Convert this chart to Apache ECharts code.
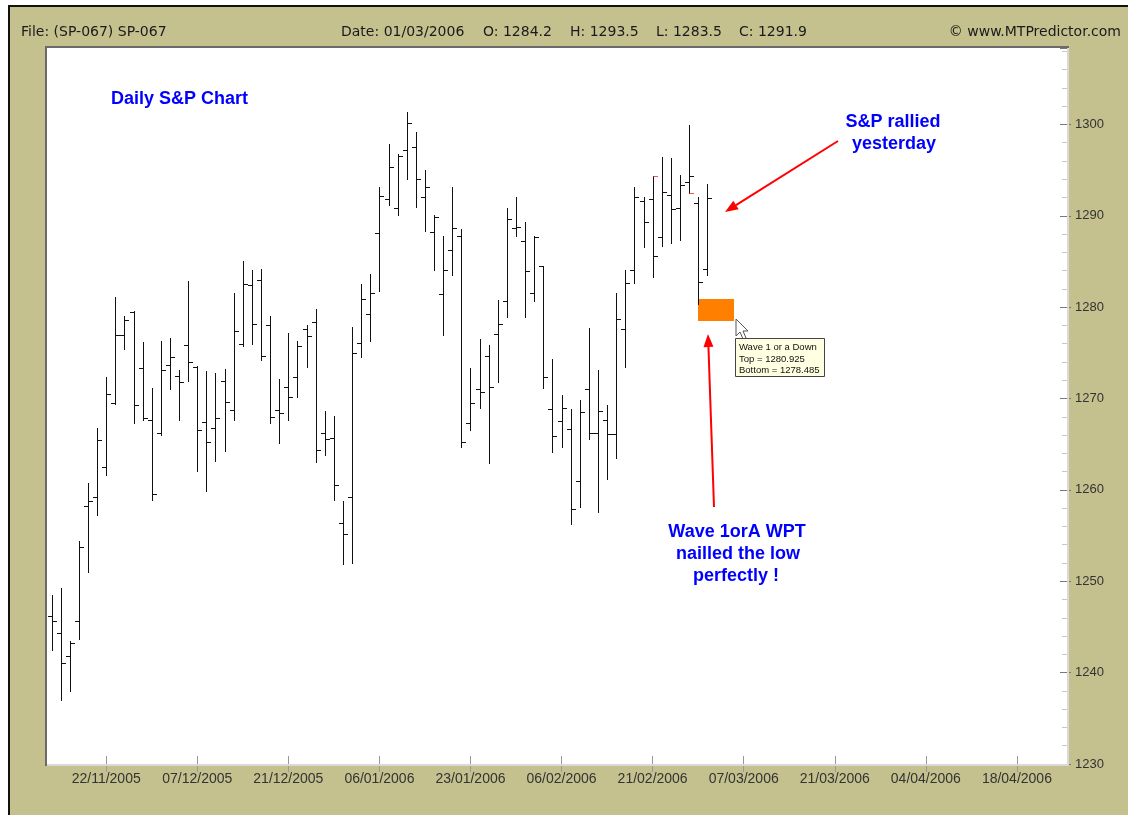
<!DOCTYPE html>
<html><head><meta charset="utf-8">
<script src="https://cdn.jsdelivr.net/npm/echarts@6/dist/echarts.min.js"></script>
<style>
html,body{margin:0;padding:0;background:#fff;}
#wrap{position:relative;width:1128px;height:815px;overflow:hidden;background:#fff;}
#frame{position:absolute;left:8px;top:5px;width:1120px;height:810px;box-sizing:border-box;border-left:2px solid #111;border-top:2px solid #111;background:#c4c18f;}
#c{position:absolute;left:0;top:0;width:1128px;height:815px;}
</style></head><body>
<div id="wrap"><div id="frame"></div><div id="c"></div></div>
<script>
// ---- trading-day categories (bars + future dates) ----
const dates = [
 '14/11/2005','15/11/2005','16/11/2005','17/11/2005','18/11/2005','21/11/2005','22/11/2005','23/11/2005','25/11/2005','28/11/2005','29/11/2005','30/11/2005',
 '01/12/2005','02/12/2005','05/12/2005','06/12/2005','07/12/2005','08/12/2005','09/12/2005','12/12/2005','13/12/2005','14/12/2005','15/12/2005','16/12/2005','19/12/2005','20/12/2005','21/12/2005','22/12/2005','23/12/2005','27/12/2005','28/12/2005','29/12/2005','30/12/2005',
 '03/01/2006','04/01/2006','05/01/2006','06/01/2006','09/01/2006','10/01/2006','11/01/2006','12/01/2006','13/01/2006','17/01/2006','18/01/2006','19/01/2006','20/01/2006','23/01/2006','24/01/2006','25/01/2006','26/01/2006','27/01/2006','30/01/2006','31/01/2006',
 '01/02/2006','02/02/2006','03/02/2006','06/02/2006','07/02/2006','08/02/2006','09/02/2006','10/02/2006','13/02/2006','14/02/2006','15/02/2006','16/02/2006','17/02/2006','21/02/2006','22/02/2006','23/02/2006','24/02/2006','27/02/2006','28/02/2006',
 '01/03/2006','02/03/2006','03/03/2006','06/03/2006','07/03/2006','08/03/2006','09/03/2006','10/03/2006','13/03/2006','14/03/2006','15/03/2006','16/03/2006','17/03/2006','20/03/2006','21/03/2006','22/03/2006','23/03/2006','24/03/2006','27/03/2006','28/03/2006','29/03/2006','30/03/2006','31/03/2006',
 '03/04/2006','04/04/2006','05/04/2006','06/04/2006','07/04/2006','10/04/2006','11/04/2006','12/04/2006','13/04/2006','14/04/2006','17/04/2006','18/04/2006','19/04/2006','20/04/2006','21/04/2006','24/04/2006','25/04/2006'
];
const xTickLabels = ['22/11/2005','07/12/2005','21/12/2005','06/01/2006','23/01/2006','06/02/2006','21/02/2006','07/03/2006','21/03/2006','04/04/2006','18/04/2006'];
const yTickValues = [1230,1240,1250,1260,1270,1280,1290,1300];

// ---- OHLC values (one per trading day, 14/11/2005 .. 01/03/2006) ----
const opens = [1246.2,1244.3,1241.8,1245.6,1258.2,1259.2,1262.5,1269.5,1276.9,1279.5,1273.3,1267.7,1266.2,1273.7,1272.5,1275.9,1273.5,1267.4,1266.8,1271.9,
 1268.7,1276.0,1282.4,1283.0,1278.0,1268.7,1271.3,1272.4,1277.6,1278.4,1266.2,1265.7,1256.4,1259.2,1276.1,1279.2,1288.1,1291.8,1290.9,1297.2,
 1297.5,1292.0,1288.2,1281.4,1286.2,1287.8,1267.3,1271.0,1274.7,1277.1,1280.7,1288.7,1287.2,1281.6,1284.5,1268.9,1267.5,1266.7,1261.0,1271.0,
 1266.2,1267.6,1266.1,1277.6,1284.1,1291.6,1291.8,1287.7,1292.3,1290.9,1293.7,1291.4,1284.2];
const highs = [1248.5,1249.3,1243.5,1254.4,1260.7,1266.8,1272.3,1281.1,1279.0,1279.6,1276.2,1271.1,1276.3,1276.6,1273.1,1282.9,1273.6,1273.0,1272.8,1273.2,
 1281.6,1285.0,1284.1,1284.2,1279.0,1272.1,1277.2,1276.3,1278.0,1279.8,1268.6,1268.1,1258.8,1277.8,1282.5,1283.6,1293.1,1297.9,1296.8,1301.4,
 1299.2,1295.0,1290.1,1287.8,1293.1,1288.6,1273.3,1276.5,1275.9,1280.8,1290.8,1292.1,1289.3,1287.8,1284.5,1274.3,1270.4,1268.8,1269.8,1277.7,
 1273.1,1269.3,1281.6,1284.1,1293.1,1292.1,1294.3,1296.4,1296.3,1294.5,1299.9,1292.1,1293.5];
const lows = [1242.5,1237.0,1238.0,1243.7,1251.0,1257.3,1261.6,1269.4,1275.4,1267.3,1267.6,1258.9,1266.0,1271.0,1267.7,1271.9,1262.1,1259.9,1263.2,1264.3,
 1267.6,1275.8,1276.0,1274.2,1267.3,1265.1,1267.6,1270.2,1273.4,1263.1,1263.8,1258.9,1251.9,1252.0,1274.5,1276.3,1281.8,1291.2,1290.1,1294.0,
 1291.0,1288.3,1284.1,1276.9,1283.5,1264.7,1266.5,1269.0,1262.9,1271.8,1278.9,1287.8,1278.9,1280.7,1271.1,1264.2,1264.7,1256.3,1258.1,1265.6,
 1257.6,1261.2,1263.5,1273.4,1282.6,1286.6,1283.3,1286.7,1287.0,1287.4,1292.5,1280.3,1283.5];
const closes = [1245.7,1241.0,1243.2,1253.7,1258.8,1265.5,1270.5,1277.0,1278.6,1269.3,1267.9,1259.6,1273.1,1274.5,1271.8,1274.0,1266.5,1265.2,1267.9,1269.6,
 1277.4,1282.5,1278.2,1274.6,1268.0,1268.4,1270.2,1275.8,1276.8,1264.4,1265.6,1260.5,1255.2,1275.0,1280.9,1281.6,1292.2,1295.3,1296.5,1300.1,
 1294.0,1293.1,1289.9,1284.1,1288.7,1265.2,1269.5,1270.7,1271.3,1278.2,1289.6,1288.8,1284.0,1287.7,1272.3,1265.9,1269.0,1257.9,1268.5,1266.2,
 1268.6,1266.1,1278.7,1282.6,1292.1,1289.3,1285.6,1292.6,1290.7,1293.4,1294.4,1282.7,1291.9];

// small red swing marks [barIndex, price]
const swingMarkIndex = [66, 70];
const swingMarkPrice = [1294.3, 1292.5];

// WPT zone: spans categories zoneFrom..zoneTo
const zoneName = 'Wave 1 or a Down';
const zoneFrom = 71, zoneTo = 75;
const zoneTop = 1280.925, zoneBottom = 1278.485;

const FONT = "'Liberation Sans', Arial, sans-serif";
const last = opens.length - 1;
const barData = opens.map((o, i) => [i, o, highs[i], lows[i], closes[i]]);
const markData = swingMarkIndex.map((idx, k) => [idx, swingMarkPrice[k]]);
const labelSet = new Set(xTickLabels);
const showAt = (idx) => labelSet.has(dates[idx]);

function renderBar(params, api) {
  const i = api.value(0);
  const o = api.coord([i, api.value(1)]);
  const h = api.coord([i, api.value(2)]);
  const l = api.coord([i, api.value(3)]);
  const c = api.coord([i, api.value(4)]);
  const x = Math.round(h[0]) + 0.5;
  const r = v => Math.round(v) + 0.5;
  const st = {stroke: '#111', lineWidth: 1};
  return {type: 'group', children: [
    {type: 'line', shape: {x1: x, y1: Math.round(h[1]), x2: x, y2: Math.round(l[1]) + 1}, style: st},
    {type: 'line', shape: {x1: x - 4.5, y1: r(o[1]), x2: x, y2: r(o[1])}, style: st},
    {type: 'line', shape: {x1: x, y1: r(c[1]), x2: x + 4.5, y2: r(c[1])}, style: st}
  ]};
}
function renderMark(params, api) {
  const p = api.coord([api.value(0), api.value(1)]);
  const x = Math.round(p[0]) + 0.5, y = Math.round(p[1]) + 0.5;
  return {type: 'line', shape: {x1: x, y1: y, x2: x + 4.5, y2: y}, style: {stroke: '#ff5050', lineWidth: 1}};
}
function renderZone(params, api) {
  const a = api.coord([api.value(0), api.value(2)]);
  const b = api.coord([api.value(1), api.value(3)]);
  return {type: 'rect', shape: {x: Math.round(a[0]), y: Math.round(a[1]), width: Math.round(b[0] - a[0]), height: Math.round(b[1] - a[1])},
    style: {fill: '#ff8000'}};
}

const yMin = 1230, yMax = 1308.36;
const commonY = {type: 'value', position: 'right', min: yMin, max: yMax, interval: 10, splitLine: {show: false}, axisLine: {show: false}};

function arrow(x1, y1, x2, y2) {
  const dx = x2 - x1, dy = y2 - y1, L = Math.hypot(dx, dy);
  const ux = dx / L, uy = dy / L, nx = -uy, ny = ux, hl = 13, hw = 5;
  const bx = x2 - hl * ux, by = y2 - hl * uy;
  return [
    {type: 'line', shape: {x1, y1, x2: bx, y2: by}, style: {stroke: '#ff0000', lineWidth: 2}, z: 50},
    {type: 'polygon', shape: {points: [[x2, y2], [bx + hw * nx, by + hw * ny], [bx - hw * nx, by - hw * ny]]}, style: {fill: '#ff0000'}, z: 50}
  ];
}
const blueText = (t, x, y, align) => ({type: 'text', x, y, z: 50, style: {text: t, fill: '#0000ff', font: "bold 18px " + FONT, textAlign: align || 'center', textVerticalAlign: 'middle'}});
const hdr = (t, x, align) => ({type: 'text', x, y: 32, z: 50, style: {text: t, fill: '#1a1a1a', font: "14px 'DejaVu Sans', sans-serif", textAlign: align || 'left', textVerticalAlign: 'middle'}});

const chart = echarts.init(document.getElementById('c'), null, {renderer: 'canvas'});
chart.setOption({
  animation: false,
  backgroundColor: 'transparent',
  grid: {left: 47, right: 61, top: 48, bottom: 51, show: true, backgroundColor: '#ffffff', borderWidth: 0},
  xAxis: [
    {type: 'category', data: dates, position: 'bottom', boundaryGap: true,
     axisLine: {show: false},
     axisTick: {show: true, inside: false, length: 8, alignWithLabel: true, interval: showAt, lineStyle: {color: '#999'}},
     axisLabel: {show: true, interval: showAt, color: '#333', fontSize: 14, fontFamily: FONT, margin: 8},
     splitLine: {show: false}},
    {type: 'category', data: dates, position: 'bottom', boundaryGap: true,
     axisLine: {show: false},
     axisTick: {show: true, inside: true, length: 8, alignWithLabel: true, interval: showAt, lineStyle: {color: '#999'}},
     axisLabel: {show: false}, splitLine: {show: false}}
  ],
  yAxis: [
    Object.assign({}, commonY, {
      axisTick: {show: true, inside: false, length: 4, lineStyle: {color: '#777'}},
      axisLabel: {show: true, color: '#333', fontSize: 13, fontFamily: FONT, margin: 8, showMaxLabel: false,
        formatter: v => (yTickValues.indexOf(v) >= 0 ? String(v) : '')}
    }),
    Object.assign({}, commonY, {
      axisTick: {show: true, inside: true, length: 7, lineStyle: {color: '#777'}},
      minorTick: {show: true, splitNumber: 5, length: 5, lineStyle: {color: '#c8c8c8'}},
      axisLabel: {show: false}
    })
  ],
  series: [
    {type: 'custom', name: 'zone', data: [[zoneFrom, zoneTo, zoneTop, zoneBottom]], encode: {x: [0, 1], y: [2, 3]}, renderItem: renderZone, z: 4},
    {type: 'custom', name: 'S&P', data: barData, encode: {x: 0, y: [1, 2, 3, 4]}, renderItem: renderBar, z: 5},
    {type: 'custom', name: 'marks', data: markData, encode: {x: 0, y: 1}, renderItem: renderMark, z: 6}
  ],
  graphic: [
    // plot frame
    {type: 'rect', shape: {x: 45, y: 46, width: 1024, height: 2}, style: {fill: '#6a6a6a'}, z: 40},
    {type: 'rect', shape: {x: 45, y: 46, width: 2, height: 720}, style: {fill: '#6a6a6a'}, z: 40},
    {type: 'rect', shape: {x: 1067, y: 48, width: 2, height: 718}, style: {fill: '#d9d9d9'}, z: 40},
    {type: 'rect', shape: {x: 47, y: 764, width: 1022, height: 2}, style: {fill: '#d9d9d9'}, z: 40},
    // header
    hdr('File: (SP-067) SP-067', 21),
    hdr('Date: ' + dates[last], 341),
    hdr('O: ' + opens[last].toFixed(1), 483),
    hdr('H: ' + highs[last].toFixed(1), 570),
    hdr('L: ' + lows[last].toFixed(1), 656),
    hdr('C: ' + closes[last].toFixed(1), 739),
    hdr('\u00A9 www.MTPredictor.com', 1121, 'right'),
    // annotations
    blueText('Daily S&P Chart', 111, 99, 'left'),
    blueText('S&P rallied', 893, 122),
    blueText('yesterday', 894, 144),
    blueText('Wave 1orA WPT', 737, 532),
    blueText('nailled the low', 738, 554),
    blueText('perfectly !', 736, 576),
    ...arrow(838, 141, 725, 212),
    ...arrow(714, 507, 708, 334),
    // mouse cursor
    {type: 'polygon', z: 55, shape: {points: [[736, 319], [736, 336], [740, 332], [743, 339], [746, 338], [743, 331], [748, 331]]},
     style: {fill: '#ffffff', stroke: '#555', lineWidth: 1}},
    // zone tooltip
    {type: 'rect', z: 55, shape: {x: 735.5, y: 338.5, width: 89, height: 38}, style: {fill: '#ffffe1', stroke: '#444', lineWidth: 1}},
    {type: 'text', z: 56, x: 739, y: 347, style: {text: zoneName, fill: '#111', font: '9.5px ' + FONT, textVerticalAlign: 'middle'}},
    {type: 'text', z: 56, x: 739, y: 359, style: {text: 'Top = ' + zoneTop, fill: '#111', font: '9.5px ' + FONT, textVerticalAlign: 'middle'}},
    {type: 'text', z: 56, x: 739, y: 370, style: {text: 'Bottom = ' + zoneBottom, fill: '#111', font: '9.5px ' + FONT, textVerticalAlign: 'middle'}}
  ]
});
</script></body></html>
